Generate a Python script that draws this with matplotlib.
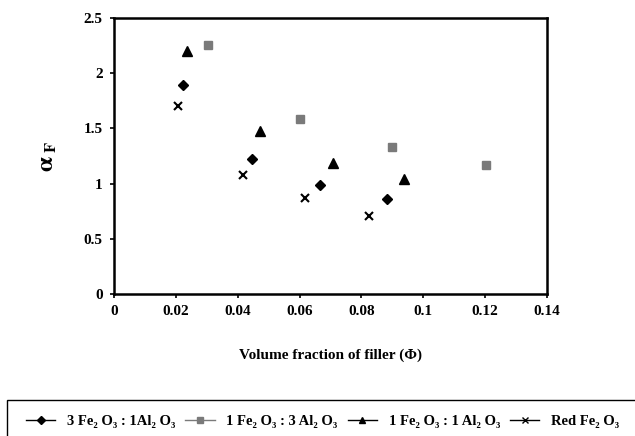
import matplotlib
matplotlib.use("Agg")
import matplotlib.pyplot as plt
from matplotlib.patches import Rectangle
import matplotlib.lines as mlines

plt.rcParams['font.family'] = ['Liberation Serif', 'DejaVu Serif']
plt.rcParams['mathtext.fontset'] = 'stix'

# Data
x_31 = [0.0224, 0.0446, 0.0666, 0.0882]
y_31 = [1.895, 1.224, 0.982, 0.858]
x_13 = [0.0303, 0.0602, 0.0899, 0.1203]
y_13 = [2.258, 1.584, 1.330, 1.170]
x_11 = [0.0236, 0.0472, 0.0707, 0.0937]
y_11 = [2.20, 1.48, 1.185, 1.043]
x_red = [0.0208, 0.0417, 0.0619, 0.0823]
y_red = [1.705, 1.073, 0.871, 0.704]

labels = ["3 Fe\u2082 O\u2083 : 1Al\u2082 O\u2083",
          "1 Fe\u2082 O\u2083 : 3 Al\u2082 O\u2083",
          "1 Fe\u2082 O\u2083 : 1 Al\u2082 O\u2083",
          "Red Fe\u2082 O\u2083"]
xticks = [0, 0.02, 0.04, 0.06, 0.08, 0.1, 0.12, 0.14]
xticklabels = ["0", "0.02", "0.04", "0.06", "0.08", "0.1", "0.12", "0.14"]
yticks = [0, 0.5, 1, 1.5, 2, 2.5]
yticklabels = ["0", "0.5", "1", "1.5", "2", "2.5"]

fig = plt.figure(figsize=(6.35, 4.36), dpi=100)
ax = fig.add_axes([0.1795, 0.3268, 0.8614 - 0.1795, 0.9576 - 0.3268])

ax.plot(x_31, y_31, linestyle='none', marker='D', markersize=5, color='black')
ax.plot(x_13, y_13, linestyle='none', marker='s', markersize=6, color='#7a7a7a')
ax.plot(x_11, y_11, linestyle='none', marker='^', markersize=7, color='black')
ax.plot(x_red, y_red, linestyle='none', marker='x', markersize=6, markeredgewidth=1.5, color='black')

ax.set_xlim(0, 0.14)
ax.set_ylim(0, 2.5)
ax.set_xticks(xticks)
ax.set_xticklabels(xticklabels, fontweight='bold', fontsize=11)
ax.set_yticks(yticks)
ax.set_yticklabels(yticklabels, fontweight='bold', fontsize=11)
ax.tick_params(direction='out', length=3, width=1.2, pad=5)
for s in ax.spines.values():
    s.set_linewidth(1.8)
    s.set_color('black')

ax.set_xlabel("Volume fraction of filler (\u03a6)", fontweight='bold', fontsize=11, labelpad=22)
ax.set_ylabel(r"$\mathbf{\alpha}_{\ \mathbf{F}}$", fontsize=17, labelpad=18)

# legend box
rect = Rectangle((0.011, -0.05), 1.1, 0.05 + 1 - 400 / 436, transform=fig.transFigure,
                 fill=False, edgecolor='black', linewidth=1.0)
fig.patches.append(rect)

handles = [
    mlines.Line2D([], [], color='black', marker='D', markersize=4, linewidth=1),
    mlines.Line2D([], [], color='#7a7a7a', marker='s', markersize=4, linewidth=1,
                  markerfacecolor='#7a7a7a', markeredgecolor='#7a7a7a'),
    mlines.Line2D([], [], color='black', marker='^', markersize=5, linewidth=1),
    mlines.Line2D([], [], color='black', marker='x', markersize=5, linewidth=1),
]
fig.legend(handles, labels, loc='center', bbox_to_anchor=(0.508, 1 - 421 / 436), ncol=4,
           frameon=False, prop={'weight': 'bold', 'size': 10.5}, handlelength=2.0,
           handletextpad=0.8, columnspacing=0.7, borderaxespad=0)

fig.savefig("out.png", dpi=100)
